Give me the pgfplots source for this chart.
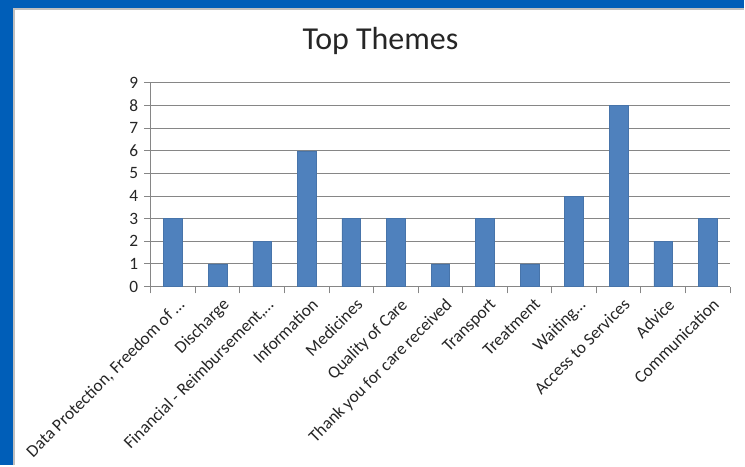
\documentclass[border=0pt]{standalone}
\usepackage{fontspec}
\setmainfont{Carlito}
\usepackage{pgfplots}
\pgfplotsset{compat=1.18}
\definecolor{frameblue}{HTML}{005EB8}
\definecolor{barblue}{HTML}{4F81BD}
\definecolor{gridgray}{HTML}{868686}
\definecolor{txt}{HTML}{262626}
\begin{document}
\begin{tikzpicture}[x=0.75pt,y=0.75pt]
\fill[frameblue] (0,0) rectangle (745,466);
\fill[white] (13,0) rectangle (745,458);
\draw[black!25, line width=1.5pt] (14,0) -- (14,457) -- (745,457);
\node[anchor=base, font=\fontsize{24}{28}\selectfont, text=txt] at (381,416) {Top Themes};
\begin{axis}[
  at={(113.25pt,134.25pt)}, anchor=south west,
  scale only axis, width=435pt, height=153pt,
  xmin=-0.5, xmax=12.5, ymin=0, ymax=9,
  ytick={0,...,9},
  xtick={0,...,12},
  xticklabels={{Data Protection, Freedom of \dots}, Discharge, {Financial - Reimbursement,\dots}, Information, Medicines, Quality of Care, Thank you for care received, Transport, Treatment, Waiting\dots, Access to Services, Advice, Communication},
  minor xtick={-0.5,0.5,...,12.5},
  major x tick style={draw=none},
  minor x tick style={gridgray, line width=0.75pt},
  ytick style={gridgray, line width=0.75pt},
  tick align=outside,
  major tick length=5pt,
  minor tick length=5pt,
  axis x line*=bottom, axis y line*=left,
  axis line style={gridgray, line width=0.75pt},
  ymajorgrids, grid style={gridgray, line width=0.75pt},
  xticklabel style={rotate=45, anchor=north east, font=\fontsize{13}{15}\selectfont, text=txt, inner sep=1pt, yshift=-3pt, xshift=1pt},
  yticklabel style={font=\fontsize{13}{15}\selectfont, text=txt, xshift=-1pt},
  /pgf/number format/assume math mode=true,
  ybar, bar width=14pt,
]
\addplot[fill=barblue, draw=barblue!90!black, line width=0.4pt] coordinates {
(0,3) (1,1) (2,2) (3,6) (4,3) (5,3) (6,1) (7,3) (8,1) (9,4) (10,8) (11,2) (12,3)};
\end{axis}
\end{tikzpicture}
\end{document}
